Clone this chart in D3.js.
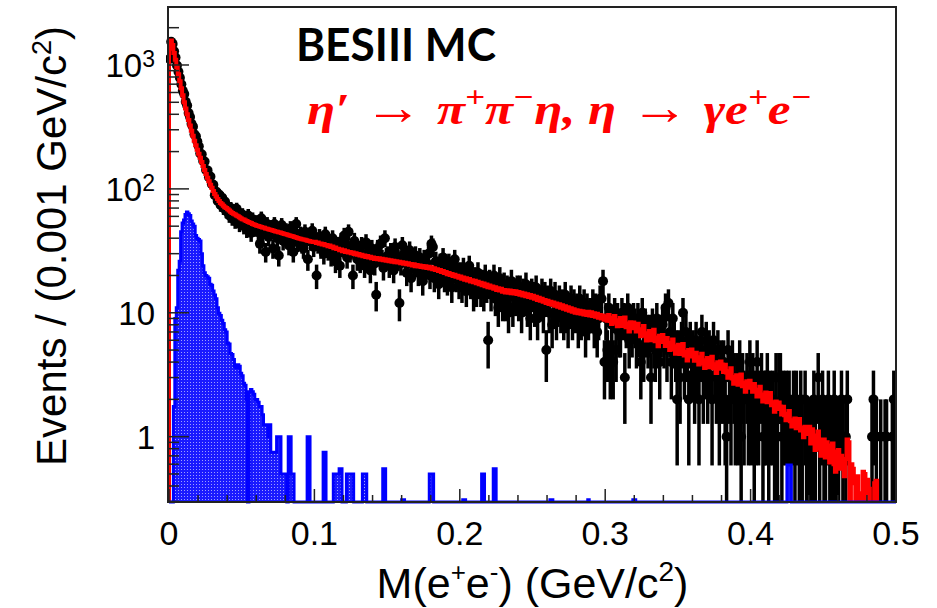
<!DOCTYPE html>
<html>
<head>
<meta charset="utf-8">
<script src="https://cdn.jsdelivr.net/npm/d3@7"></script>
<style>
body { margin: 0; background: white; }
svg { display: block; }
</style>
</head>
<body>
<svg id="chart" width="937" height="608"></svg>
<script>
// M(e+e-) spectrum, 500 bins of 1 MeV from 0 to 0.5 GeV.
var binWidth = 0.001;
var xTicks = [0, 0.1, 0.2, 0.3, 0.4, 0.5];
var xTickLabels = ["0", "0.1", "0.2", "0.3", "0.4", "0.5"];
var yTicks = [1, 10, 100, 1000];
var yTickLabels = [["1", ""], ["10", ""], ["10", "2"], ["10", "3"]];

// red curve (signal MC shape)
var mcShape = [
 1350,1580,1450,1250,1100,960,840,740,650,570,
 500,445,400,360,325,295,268,245,225,207,
 192,178,165,153,142,132,123,115,108,102,
 96,91,87,83,80,77,75,73,71,70,
 68.5,67,65.5,64,63,62,61,60,59,58,
 57,56.5,55.5,55,54,53.5,53,52,51.5,51,
 50.5,50.1,49.6,49.3,48.8,48.5,48.0,47.7,47.3,46.9,
 46.5,46.2,45.8,45.4,45.1,44.7,44.4,44.0,43.7,43.3,
 43.0,42.6,42.3,41.9,41.6,41.2,40.9,40.5,40.2,39.8,
 39.5,39.3,39.0,38.8,38.5,38.2,38.0,37.7,37.5,37.2,
 37.4,36.5,36.9,36.0,36.3,35.5,35.9,35.0,35.3,34.4,
 34.9,33.9,34.2,33.2,33.6,32.7,32.9,32.0,32.4,31.4,
 31.9,31.0,31.4,30.6,30.9,30.2,30.6,29.8,30.2,29.4,
 29.8,29.0,29.4,28.6,29.0,28.2,28.7,27.9,28.3,27.5,
 27.9,27.2,27.7,27.0,27.5,26.8,27.3,26.6,27.1,26.3,
 26.8,26.1,26.6,25.8,26.3,25.6,26.1,25.4,25.8,25.1,
 25.6,24.9,25.3,24.6,25.1,24.4,24.8,24.1,24.6,23.8,
 24.3,23.6,24.1,23.4,23.9,23.2,23.7,23.0,23.5,22.8,
 23.3,22.5,22.9,22.1,22.5,21.7,22.1,21.3,21.7,20.9,
 21.3,20.5,20.9,20.2,20.6,19.8,20.3,19.5,19.9,19.2,
 19.6,18.8,19.3,18.5,19.0,18.2,18.7,17.9,18.3,17.6,
 18.1,17.3,17.8,17.0,17.5,16.7,17.2,16.4,16.9,16.1,
 16.6,15.9,16.3,15.6,16.1,15.3,15.8,15.1,15.6,14.8,
 15.3,14.6,15.2,14.5,15.1,14.4,15.0,14.3,14.9,14.2,
 14.7,14.0,14.5,13.8,14.3,13.6,14.1,13.4,13.9,13.2,
 13.7,13.0,13.5,12.7,13.2,12.5,13.0,12.3,12.7,12.0,
 12.5,11.8,12.3,11.6,12.1,11.4,11.9,11.2,11.7,11.0,
 11.5,10.8,11.3,10.6,11.1,10.4,10.9,10.2,10.7,10.0,
 10.5,9.9,10.4,9.8,10.3,9.7,10.2,9.6,10.2,9.5,
 10.1,9.4,9.9,9.3,9.8,9.1,9.6,9.0,9.5,8.8,
 9.34,8.61,9.59,8.58,8.12,9.10,9.44,8.32,7.77,8.72,
 9.08,7.83,8.23,9.15,7.63,8.18,7.07,8.40,7.49,8.35,
 8.06,7.05,8.14,7.08,6.48,7.38,7.84,6.56,5.98,6.83,
 7.13,6.01,6.33,7.28,5.88,6.31,5.38,6.54,5.80,6.63,
 6.15,5.40,6.25,5.45,5.00,5.72,6.09,5.11,4.68,5.37,
 5.51,4.64,4.88,5.61,4.52,4.85,4.12,5.01,4.44,5.06,
 4.66,4.10,4.75,4.15,3.82,4.37,4.66,3.91,3.59,4.13,
 4.32,3.64,3.84,4.42,3.57,3.84,3.27,3.98,3.53,4.05,
 3.82,3.32,3.81,3.29,2.99,3.38,3.56,2.95,2.68,3.03,
 3.13,2.63,2.76,3.17,2.55,2.73,2.31,2.80,2.48,2.83,
 2.65,2.31,2.66,2.31,2.11,2.39,2.53,2.11,1.92,2.19,
 2.27,1.90,1.97,2.25,1.79,1.90,1.59,1.92,1.67,1.89,
 1.75,1.51,1.74,1.49,1.36,1.53,1.61,1.33,1.21,1.36,
 1.40,1.17,1.23,1.39,1.12,1.18,0.99,1.20,1.05,1.19,
 1.20,0.88,1.15,0.92,0.78,1.02,1.10,0.80,0.70,0.95,
 0.95,0.68,0.90,0.74,0.62,0.85,0.88,0.60,0.52,0.76,
 0.78,0.55,0.70,0.62,0.48,0.66,0.95,0.90,0.25,0.60,
 0.55,0.42,0.30,0.48,0.35,0.28,0.25,0.52,0.50,0.30,
 0.45,0.38,0.25,0.20,0.25,0.42,0.44,0.25,0.20,0.25,
 0,0,0,0,0,0,0,0,0,0
];

// black points (MC events per bin)
var mcEvents = [
 1120,1540,1480,1290,1150,990,880,790,700,620,
 582,505,471,409,381,335,318,276,266,241,
 221,193,190,168,166,142,141,124,126,109,
 108,89,95,80,90,74,85,70,79,66,
 72,61,70,58,67,55,69,63,52,60,
 62,50,58,47,61,55,44,57,53,48,
 54,45,36,58,43,49,31,52,41,47,
 49,33,52,44,40,29,47,51,38,45,
 46,39,35,48,42,31,44,52,37,41,
 43,36,33,45,39,27,41,38,46,34,
 39,20,36,41,33,38,30,43,35,32,
 37,29,40,33,26,35,31,24,38,34,
 42,36,28,45,31,33,20,38,35,27,
 32,26,35,29,24,37,28,31,22,33,
 30,25,14,33,29,36,27,23,40,28,
 29,24,31,26,22,34,27,27,12,25,
 35,30,27,21,28,32,19,26,24,29,
 26,21,28,24,18,27,22,25,30,20,
 36,34,19,26,22,17,25,21,28,19,
 23,18,25,20,16,22,27,19,21,17,
 21,16,23,18,15,20,24,17,19,14,
 19,15,21,17,15,18,14,20,16,6,
 18,14,17,20,13,16,11,19,15,12,
 17,12,16,10,14,18,11,15,13,16,
 12,16,10,15,13,17,11,14,9,15,
 14,11,16,9,13,12,15,10,14,5,
 13,10,15,8,12,14,9,11,13,10,
 12,9,14,10,8,11,13,9,12,10,
 11,8,13,9,10,12,7,11,9,10,
 10,12,8,11,7,9,13,13,18,4,
 9,5,11,4,8,4,10,5,9,7,
 7,10,9,3,8,11,6,8,7,9,
 8,6,9,7,4,10,5,8,7,6,
 7,3,8,6,5,9,6,4,7,8,
 6,11,5,12,7,4,9,6,5,2,
 5,3,6,10,4,7,5,2,6,4,
 5,3,6,4,2,5,7,3,4,6,
 3,5,4,2,6,4,3,5,2,4,
 3,4,2,1,5,3,2,4,3,2,
 3,2,4,1,3,2,0,3,2,4,
 2,3,1,2,4,2,0,3,1,2,
 2,3,1,2,0,2,1,3,1,3,
 3,1,2,0,2,1,2,1,0,2,
 1,2,0,1,2,1,0,2,1,1,
 1,0,1,2,1,0,3,1,0,2,
 1,1,0,2,1,0,1,2,1,0,
 1,0,2,1,0,1,2,0,0,0,
 0,0,0,0,0,0,0,0,0,0,
 0,0,0,1,2,0,1,0,0,1,
 0,0,1,1,0,0,0,1,2,1
];

// blue filled histogram (peaking contribution)
var peakBkg = [
 0,0,0,1.75,9,11,22,26,45,53,
 56,62,65,63,61,55,52,50,42,40,
 39,38,30,24,21,20,19.5,19,17,16.7,
 15,13.9,13,11,9.9,9.5,8.7,8.2,7.3,7.0,
 5.7,5.6,4.7,4.6,4.2,3.7,3.6,3.8,3.7,3.25,
 3.1,2.7,2.6,2.0,0,2.3,2.4,2.3,2.2,2.0,
 2.0,1.9,1.75,1.75,1.5,1.25,1.25,1.25,1.0,1.25,
 0.75,0.75,0.75,0.75,1.0,1.0,1.0,0.5,0.5,0.5,
 0.5,0,1.0,1.0,0.5,0.5,0,0,0,0,
 0,0,0,0,0,1.0,1.0,0,0,0,
 0,0,0,0,0,0,0.75,0.75,0,0,
 0,0,0,0.5,0.5,0.5,0.5,0.55,0.55,0,
 0,0,0.5,0.5,0.5,0.5,0.5,0,0,0,
 0,0,0,0.5,0.5,0.5,0,0,0,0,
 0,0,0,0,0,0,0,0.55,0.55,0,
 0,0,0,0,0,0,0,0,0,0,
 0.31,0.31,0,0,0,0,0,0,0,0,
 0,0,0,0,0,0,0,0,0,0.5,
 0.5,0.5,0,0,0,0,0,0,0,0,
 0,0,0,0,0,0,0,0,0,0,
 0,0,0.31,0.31,0,0,0,0,0,0,
 0,0,0,0,0,0.5,0.5,0,0,0,
 0,0,0,0.55,0.55,0,0,0,0,0,
 0,0,0,0,0,0,0,0,0,0,
 0,0,0,0,0,0,0,0,0,0,
 0,0,0,0,0,0,0,0,0,0,
 0,0,0.31,0.31,0,0,0,0,0,0,
 0,0,0,0,0,0,0,0,0,0,
 0,0,0,0,0,0,0,0,0.31,0,
 0,0,0,0,0,0,0,0,0,0,
 0,0,0,0,0,0,0,0,0,0,
 0,0,0,0,0,0,0,0,0,0.31,
 0.31,0,0,0,0,0,0,0,0,0,
 0,0,0,0,0,0,0,0,0,0,
 0,0,0,0,0,0,0,0,0,0,
 0,0,0,0,0,0,0,0,0,0,
 0,0,0,0,0,0,0,0,0,0,
 0,0,0,0,0,0,0,0,0,0,
 0,0,0,0,0,0,0,0,0,0,
 0,0,0,0,0,0,0,0,0,0,
 0,0,0,0,0,0,0,0,0,0,
 0,0,0,0,0,0,0,0,0,0,
 0,0,0,0,0,0.59,0.59,0.59,0,0,
 0,0,0,0,0,0,0,0,0,0,
 0,0,0,0,0,0,0,0,0,0,
 0,0,0,0,0,0,0,0,0,0,
 0,0,0,0,0,0,0,0,0,0,
 0,0,0,0,0,0,0,0,0,0,
 0,0,0,0,0,0,0,0,0,0,
 0,0,0,0,0,0,0,0,0,0
];

var x0 = 169, x1 = 896, yTop = 7, yBot = 502;
var yMin = 0.297, yMax = 2938;

var svg = d3.select("#chart");
var xScale = d3.scaleLinear().domain([0, 0.5]).range([x0, x1]);
var yScale = d3.scaleLog().domain([yMin, yMax]).range([yBot, yTop]);

// value -> pixel, values under the axis minimum go to (or below) the bottom
function yc(v, below) {
    if (v <= yMin) return yBot + (below || 0);
    return yScale(v);
}

function stepPoints(arr) {
    var pts = [{m: 0, v: 0}];
    arr.forEach(function(v, i) { pts.push({m: i * binWidth, v: v}); });
    pts.push({m: arr.length * binWidth, v: arr[arr.length - 1]});
    pts.push({m: arr.length * binWidth, v: 0});
    return pts;
}

var defs = svg.append("defs");
defs.append("clipPath").attr("id", "frameclip")
    .append("rect").attr("x", x0 - 3).attr("y", yTop).attr("width", x1 - x0 + 3).attr("height", yBot - yTop);
var pat = defs.append("pattern").attr("id", "dots")
    .attr("width", 3).attr("height", 3).attr("patternUnits", "userSpaceOnUse");
pat.append("rect").attr("width", 3).attr("height", 3).attr("fill", "#1a1aff");
pat.append("rect").attr("x", 1).attr("y", 1).attr("width", 1).attr("height", 1).attr("fill", "#9d9dff");

var plot = svg.append("g").attr("clip-path", "url(#frameclip)");

// black points with error bars
var pts = [];
mcEvents.forEach(function(n, i) { if (n > 0) pts.push({m: (i + 0.5) * binWidth, n: n}); });
plot.append("g").selectAll("line").data(pts).enter().append("line")
    .attr("x1", function(d) { return xScale(d.m); })
    .attr("x2", function(d) { return xScale(d.m); })
    .attr("y1", function(d) { return yc(d.n - Math.sqrt(d.n), 6); })
    .attr("y2", function(d) { return yScale(d.n + Math.sqrt(d.n)); })
    .attr("stroke", "black").attr("stroke-width", 3.5);
plot.append("g").selectAll("circle").data(pts).enter().append("circle")
    .attr("cx", function(d) { return xScale(d.m); })
    .attr("cy", function(d) { return yScale(d.n); })
    .attr("r", 5).attr("fill", "black");

// blue hist
var bluePts = stepPoints(peakBkg);
svg.append("path").datum(bluePts)
    .attr("d", d3.area().curve(d3.curveStepAfter)
        .x(function(d) { return xScale(d.m); })
        .y0(yBot).y1(function(d) { return yc(d.v); }))
    .attr("fill", "url(#dots)");
svg.append("path").datum(bluePts)
    .attr("d", d3.line().curve(d3.curveStepAfter)
        .x(function(d) { return xScale(d.m); })
        .y(function(d) { return yc(d.v); }))
    .attr("fill", "none").attr("stroke", "#0000ff").attr("stroke-width", 3);

// red curve
plot.append("path").datum(stepPoints(mcShape))
    .attr("d", d3.line().curve(d3.curveStepAfter)
        .x(function(d) { return xScale(d.m); })
        .y(function(d) { return yc(d.v, 6); }))
    .attr("fill", "none").attr("stroke", "#ff0000").attr("stroke-width", 4)
    .attr("stroke-linejoin", "miter");

// frame
svg.append("rect").attr("x", x0 - 1).attr("y", yTop).attr("width", x1 - x0 + 1).attr("height", yBot - yTop)
    .attr("fill", "none").attr("stroke", "#222").attr("stroke-width", 2);

// ticks (inward, left and bottom only)
var ax = svg.append("g").attr("stroke", "#222").attr("stroke-width", 1.5);
yScale.ticks().forEach(function(t) {
    var major = Math.abs(Math.log10(t) - Math.round(Math.log10(t))) < 1e-6;
    var y = yScale(t);
    if (y < yTop || y > yBot) return;
    ax.append("line").attr("x1", x0).attr("x2", x0 + (major ? 20 : 10)).attr("y1", y).attr("y2", y);
});
xScale.ticks(25).forEach(function(t) {
    var major = Math.abs(t * 10 - Math.round(t * 10)) < 1e-6;
    var x = xScale(t);
    ax.append("line").attr("x1", x).attr("x2", x).attr("y1", yBot).attr("y2", yBot - (major ? 13 : 7));
});

var font = "'Liberation Sans', Arial, Helvetica, sans-serif";

// y tick labels
yTicks.forEach(function(t, i) {
    var tx = svg.append("text").attr("x", 155).attr("y", yScale(t)).attr("dy", "0.36em")
        .attr("text-anchor", "end").attr("font-family", font).attr("font-size", 33).attr("fill", "black");
    tx.append("tspan").text(yTickLabels[i][0]);
    if (yTickLabels[i][1]) tx.append("tspan").attr("dy", "-0.42em").attr("font-size", 23).text(yTickLabels[i][1]);
});

// x tick labels
xTicks.forEach(function(t, i) {
    svg.append("text").attr("x", xScale(t)).attr("y", 545).attr("text-anchor", "middle")
        .attr("font-family", font).attr("font-size", 34).attr("fill", "black").text(xTickLabels[i]);
});

// axis titles
var xt = svg.append("text").attr("x", (x0 + x1) / 2).attr("y", 598).attr("text-anchor", "middle")
    .attr("font-family", font).attr("font-size", 43).attr("fill", "black");
xt.append("tspan").text("M(e");
xt.append("tspan").attr("dy", -17).attr("font-size", 26).text("+");
xt.append("tspan").attr("dy", 17).text("e");
xt.append("tspan").attr("dy", -17).attr("font-size", 26).text("-");
xt.append("tspan").attr("dy", 17).text(") (GeV/c");
xt.append("tspan").attr("dy", -17).attr("font-size", 28).text("2");
xt.append("tspan").attr("dy", 17).text(")");

var yt = svg.append("text").attr("transform", "translate(66,246) rotate(-90)").attr("text-anchor", "middle")
    .attr("font-family", font).attr("font-size", 42).attr("fill", "black");
yt.append("tspan").text("Events / (0.001 GeV/c");
yt.append("tspan").attr("dy", -15).attr("font-size", 27).text("2");
yt.append("tspan").attr("dy", 15).text(")");

// labels inside the frame
function fitWidth(sel, w) {
    var bb = sel.node().getBBox();
    var s = w / bb.width;
    sel.attr("transform", "translate(" + bb.x + ",0) scale(" + s + ",1) translate(" + (-bb.x) + ",0)");
}

var besLabel = svg.append("text").attr("x", 296).attr("y", 61)
    .attr("font-family", "Lato, 'Open Sans', sans-serif").attr("font-weight", 700)
    .attr("font-size", 46).attr("fill", "black").text("BESIII MC");
fitWidth(besLabel, 200);

var decay = svg.append("text").attr("x", 307).attr("y", 124)
    .attr("font-family", "'Liberation Serif', 'DejaVu Serif', serif").attr("font-weight", 700)
    .attr("font-style", "italic").attr("font-size", 44).attr("fill", "#ff0000");
// piece(text, baseline shift, font size, upright)
function piece(txt, dy, size, upright) {
    var t = decay.append("tspan").text(txt);
    if (dy) t.attr("dy", dy);
    if (size) t.attr("font-size", size);
    if (upright) t.attr("font-style", "normal").attr("font-weight", 400);
    return t;
}
piece("\u03B7\u2032");
piece(" \u2192 ", 0, 50, true);
piece("\u03C0", 0, 44);
piece("+", -17, 30);
piece("\u03C0", 17, 44);
piece("\u2212", -17, 30);
piece("\u03B7, \u03B7", 17, 44);
piece(" \u2192 ", 0, 50, true);
piece("\u03B3e", 0, 44);
piece("+", -17, 30);
piece("e", 17, 44);
piece("\u2212", -17, 30);
fitWidth(decay, 505);
</script>
</body>
</html>
